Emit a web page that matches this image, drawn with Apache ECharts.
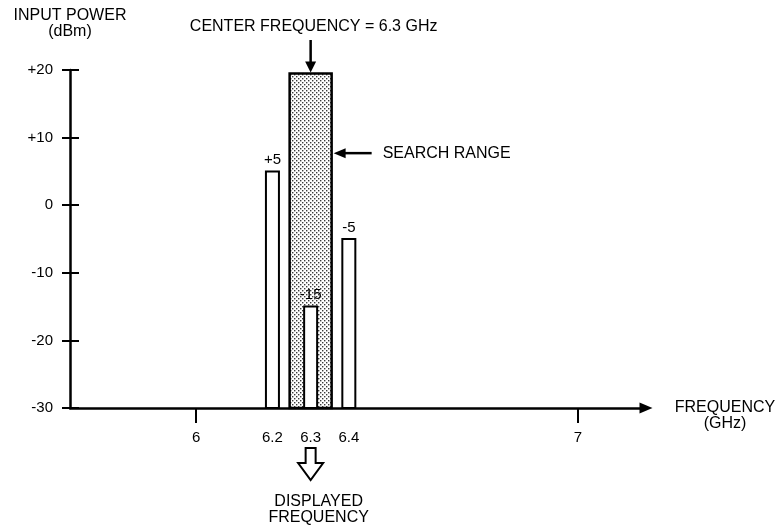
<!DOCTYPE html>
<html>
<head>
<meta charset="utf-8">
<script src="https://cdn.jsdelivr.net/npm/echarts@6/dist/echarts.min.js"></script>
<style>
  html, body { margin: 0; padding: 0; background: #fff; }
  #chart { width: 780px; height: 529px; }
</style>
</head>
<body>
<div id="chart"></div>
<script>
// ---- data ----
const signalFreqs = [6.2, 6.3, 6.4];          // GHz
const signalPowers = [5, -15, -5];             // dBm
const xLabelValues = [6, 6.2, 6.3, 6.4, 7];    // labelled frequencies
const xTickValues = [6, 7];                    // tick marks on x axis
const yRange = [-30, 20];                      // dBm
const yStep = 10;
const centerFreq = 6.3;                        // GHz
const searchRange = [6.245, 6.355];            // GHz
const searchTop = 19.5;                        // dBm (top of shaded band)
const searchArrowLevel = 7.7;                  // dBm, where the "SEARCH RANGE" arrow points
const xRange = [5.67, 7.178];

const FONT = "'Liberation Sans', Arial, Helvetica, sans-serif";

// dotted pattern for search range
const pat = document.createElement('canvas');
pat.width = 4; pat.height = 4;
const pctx = pat.getContext('2d');
pctx.fillStyle = '#ffffff'; pctx.fillRect(0, 0, 4, 4);
pctx.fillStyle = '#3a3a3a';
pctx.fillRect(0, 0, 1.4, 1.4);
pctx.fillRect(2, 2, 1.4, 1.4);

const chart = echarts.init(document.getElementById('chart'), null, { renderer: 'canvas' });

function fmtPower(v) { return v > 0 ? '+' + v : String(v); }

const option = {
  backgroundColor: '#fff',
  animation: false,
  grid: { left: 70, right: 134, top: 70, bottom: 121, containLabel: false },
  xAxis: {
    type: 'value',
    min: xRange[0], max: xRange[1],
    axisLine: { show: true, onZero: false, lineStyle: { color: '#000', width: 2.5 }, symbol: ['none', 'triangle'], symbolSize: [11, 13] },
    axisTick: { show: true, customValues: xTickValues, length: 15, inside: false, lineStyle: { color: '#000', width: 2 } },
    axisLabel: { customValues: xLabelValues, margin: 22, fontFamily: FONT, fontSize: 15, color: '#000', formatter: v => String(v) },
    splitLine: { show: false }
  },
  yAxis: [{
    type: 'value',
    min: yRange[0], max: yRange[1], interval: yStep,
    name: 'INPUT POWER\n(dBm)',
    nameLocation: 'end',
    nameGap: 30,
    nameTextStyle: { fontFamily: FONT, fontSize: 16, color: '#000', align: 'center', lineHeight: 16 },
    axisLine: { show: true, onZero: false, lineStyle: { color: '#000', width: 2.5 } },
    axisTick: { show: true, length: 8, lineStyle: { color: '#000', width: 2 } },
    axisLabel: { margin: 17, fontFamily: FONT, fontSize: 15, color: '#000', formatter: fmtPower },
    splitLine: { show: false }
  }, {
    type: 'value',
    min: yRange[0], max: yRange[1], interval: yStep,
    position: 'left',
    axisLine: { show: false },
    axisTick: { show: true, inside: true, length: 9, lineStyle: { color: '#000', width: 2 } },
    axisLabel: { show: false },
    splitLine: { show: false }
  }],
  series: [{
    type: 'custom',
    name: 'search range',
    z: 1,
    data: [[searchRange[0], searchRange[1], searchTop]],
    renderItem: function (params, api) {
      const p0 = api.coord([api.value(0), api.value(2)]);
      const p1 = api.coord([api.value(1), yRange[0]]);
      return {
        type: 'rect',
        shape: { x: p0[0], y: p0[1], width: p1[0] - p0[0], height: p1[1] - p0[1] },
        style: { fill: { image: pat, repeat: 'repeat' }, stroke: '#000', lineWidth: 2.5 }
      };
    }
  }, {
    type: 'custom',
    name: 'signals',
    z: 2,
    data: signalFreqs.map((f, i) => [f, signalPowers[i]]),
    renderItem: function (params, api) {
      const x = api.value(0), y = api.value(1);
      const top = api.coord([x, y]);
      const base = api.coord([x, yRange[0]]);
      const w = 13;
      return {
        type: 'group',
        children: [{
          type: 'rect',
          shape: { x: top[0] - w / 2, y: top[1], width: w, height: base[1] - top[1] },
          style: { fill: '#fff', stroke: '#000', lineWidth: 2 }
        }, {
          type: 'text',
          style: { text: fmtPower(y), x: top[0], y: top[1] - 4, align: 'center', verticalAlign: 'bottom', font: '15px ' + FONT, fill: '#000' }
        }]
      };
    }
  }]
};
chart.setOption(option);

// ---- annotations positioned through the chart's own scales ----
function px(x, y) { return chart.convertToPixel({ gridIndex: 0 }, [x, y]); }
const cTop = px(centerFreq, searchTop);
const cBase = px(centerFreq, yRange[0]);
const rEdge = px(searchRange[1], searchArrowLevel);
const axisEnd = px(xRange[1], yRange[0]);

const graphics = [
  // x axis name
  { type: 'text', style: { text: 'FREQUENCY\n(GHz)', x: axisEnd[0] + 79, y: axisEnd[1] - 8, align: 'center', verticalAlign: 'top', font: '16px ' + FONT, lineHeight: 16, fill: '#000' } },
  // center frequency text + arrow
  { type: 'text', style: { text: 'CENTER FREQUENCY = 6.3 GHz', x: cTop[0] + 3, y: 27, align: 'center', verticalAlign: 'middle', font: '16px ' + FONT, fill: '#000' } },
  { type: 'line', shape: { x1: cTop[0], y1: 40, x2: cTop[0], y2: cTop[1] - 10 }, style: { stroke: '#000', lineWidth: 2.5 } },
  { type: 'polygon', shape: { points: [[cTop[0] - 5.5, cTop[1] - 12], [cTop[0] + 5.5, cTop[1] - 12], [cTop[0], cTop[1] - 1]] }, style: { fill: '#000' } },
  // search range arrow + text
  { type: 'polygon', shape: { points: [[rEdge[0] + 2, rEdge[1]], [rEdge[0] + 14, rEdge[1] - 5], [rEdge[0] + 14, rEdge[1] + 5]] }, style: { fill: '#000' } },
  { type: 'line', shape: { x1: rEdge[0] + 12, y1: rEdge[1], x2: rEdge[0] + 40, y2: rEdge[1] }, style: { stroke: '#000', lineWidth: 2.5 } },
  { type: 'text', style: { text: 'SEARCH RANGE', x: rEdge[0] + 51, y: rEdge[1], align: 'left', verticalAlign: 'middle', font: '16px ' + FONT, fill: '#000' } },
  // displayed frequency hollow arrow + text
  { type: 'polygon', shape: { points: [
      [cBase[0] - 5, cBase[1] + 40], [cBase[0] + 5, cBase[1] + 40], [cBase[0] + 5, cBase[1] + 55],
      [cBase[0] + 12.5, cBase[1] + 55], [cBase[0], cBase[1] + 72], [cBase[0] - 12.5, cBase[1] + 55],
      [cBase[0] - 5, cBase[1] + 55]] },
    style: { fill: '#fff', stroke: '#000', lineWidth: 2 } },
  { type: 'text', style: { text: 'DISPLAYED\nFREQUENCY', x: cBase[0] + 8, y: cBase[1] + 86, align: 'center', verticalAlign: 'top', font: '16px ' + FONT, lineHeight: 16, fill: '#000' } }
];
chart.setOption({ graphic: graphics });
</script>
</body>
</html>
